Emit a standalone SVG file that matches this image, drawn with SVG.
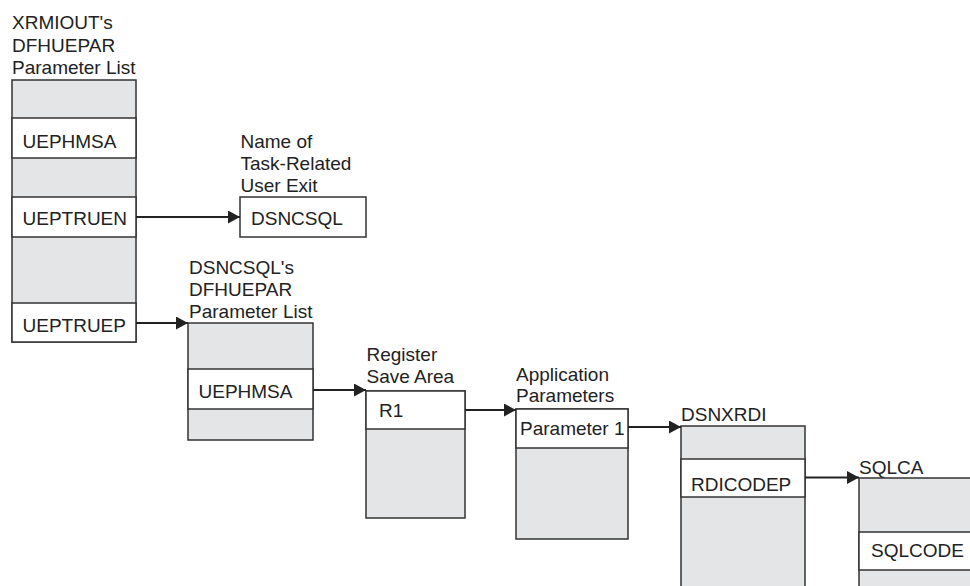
<svg xmlns="http://www.w3.org/2000/svg" width="970" height="586" viewBox="0 0 970 586">
<style>
text{font-family:"Liberation Sans",Arial,sans-serif;font-size:19px;fill:#222}
.g{fill:#e4e5e7;stroke:#333;stroke-width:1.5}
.w{fill:#fff;stroke:#333;stroke-width:1.5}
.c{stroke:#222;stroke-width:2;fill:none;marker-end:url(#ah)}
</style>
<defs>
<marker id="ah" markerUnits="userSpaceOnUse" markerWidth="13" markerHeight="14" refX="12" refY="6.5" orient="auto">
<path d="M0,0 L12,6.5 L0,13 z" fill="#222"/>
</marker>
</defs>
<rect width="970" height="586" fill="#fff"/>
<g id="xrmiout">
<text x="12" y="29">XRMIOUT's</text>
<text x="12" y="51.5">DFHUEPAR</text>
<text x="12" y="74">Parameter List</text>
<rect class="g" x="12" y="80" width="124" height="262"/>
<rect class="w" x="12" y="118" width="124" height="40"/>
<rect class="w" x="12" y="197" width="124" height="40"/>
<rect class="w" x="12" y="303" width="124" height="39"/>
<text x="22.5" y="147.5">UEPHMSA</text>
<text x="22.5" y="225">UEPTRUEN</text>
<text x="22.5" y="331.5">UEPTRUEP</text>
</g>
<g id="taskexit">
<text x="240.5" y="147.5">Name of</text>
<text x="240.5" y="169.5">Task-Related</text>
<text x="240.5" y="191.5">User Exit</text>
<rect class="w" x="240" y="197" width="126" height="40"/>
<text x="251" y="225">DSNCSQL</text>
</g>
<g id="dsncsql">
<text x="189" y="274">DSNCSQL's</text>
<text x="189" y="296">DFHUEPAR</text>
<text x="189" y="317.5">Parameter List</text>
<rect class="g" x="188" y="323" width="125" height="117"/>
<rect class="w" x="188" y="369" width="125" height="40"/>
<text x="198.5" y="397.5">UEPHMSA</text>
</g>
<g id="regsave">
<text x="366.5" y="360.5">Register</text>
<text x="366.5" y="383">Save Area</text>
<rect class="g" x="366" y="391" width="99" height="127"/>
<rect class="w" x="366" y="391" width="99" height="38"/>
<text x="379" y="416.5">R1</text>
</g>
<g id="appparms">
<text x="516" y="380.5">Application</text>
<text x="516" y="401.5">Parameters</text>
<rect class="g" x="516" y="409" width="112" height="130"/>
<rect class="w" x="516" y="409" width="112" height="39"/>
<text x="520" y="435">Parameter 1</text>
</g>
<g id="dsnxrdi">
<text x="681" y="420.5">DSNXRDI</text>
<rect class="g" x="681" y="426" width="124" height="200"/>
<rect class="w" x="681" y="459" width="124" height="38"/>
<text x="691" y="490.5">RDICODEP</text>
</g>
<g id="sqlca">
<text x="859" y="474">SQLCA</text>
<rect class="g" x="859" y="478" width="130" height="150"/>
<rect class="w" x="859" y="532" width="130" height="38"/>
<text x="871" y="556.5">SQLCODE</text>
</g>
<g id="connectors">
<line class="c" x1="136" y1="217" x2="240" y2="217"/>
<line class="c" x1="136" y1="323" x2="188" y2="323"/>
<line class="c" x1="313" y1="390" x2="366" y2="390"/>
<line class="c" x1="465" y1="410" x2="516" y2="410"/>
<line class="c" x1="628" y1="427" x2="681" y2="427"/>
<line class="c" x1="805" y1="477.5" x2="859" y2="477.5"/>
</g>
</svg>
